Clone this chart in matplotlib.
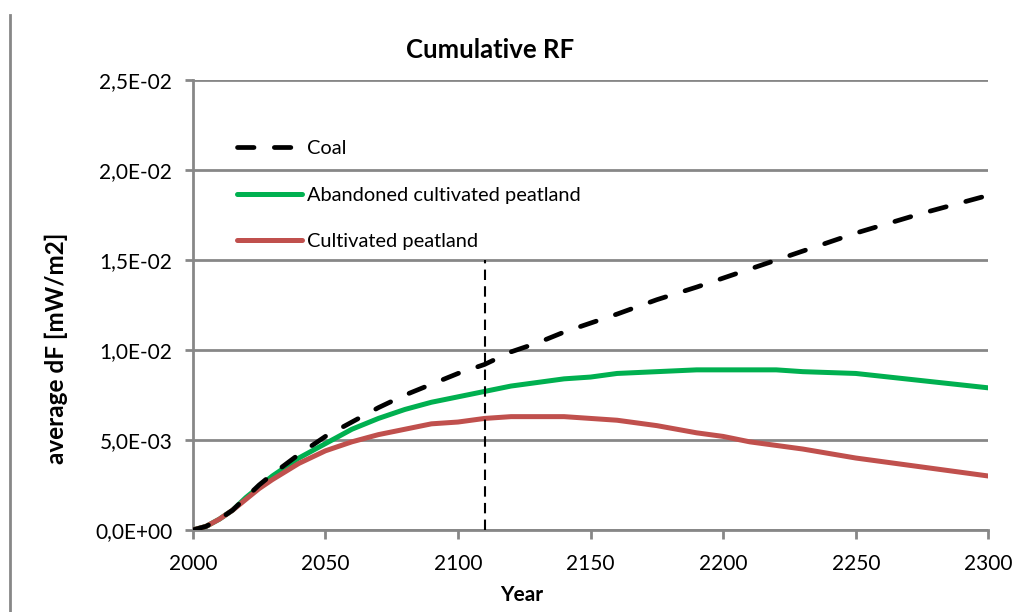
import matplotlib.pyplot as plt
from matplotlib.lines import Line2D

plt.rcParams['font.family'] = ['Lato', 'DejaVu Sans']

# values
years = [2000, 2005, 2010, 2015, 2020, 2025, 2030, 2040, 2050, 2060, 2070,
         2080, 2090, 2100, 2110, 2120, 2130, 2140, 2150, 2160, 2175, 2190,
         2200, 2210, 2220, 2230, 2250, 2275, 2300]
coal = [0.0, 0.0002, 0.0006, 0.0011, 0.0018, 0.0025, 0.0031, 0.0042, 0.0052,
        0.0060, 0.0068, 0.0075, 0.0081, 0.0087, 0.0092, 0.0099, 0.0104,
        0.0110, 0.0115, 0.0120, 0.0128, 0.0135, 0.0140, 0.0145, 0.0150,
        0.0155, 0.0165, 0.0176, 0.0186]
abandoned = [0.0, 0.0002, 0.0006, 0.0011, 0.0018, 0.0024, 0.0030, 0.0040,
             0.0048, 0.0056, 0.0062, 0.0067, 0.0071, 0.0074, 0.0077, 0.0080,
             0.0082, 0.0084, 0.0085, 0.0087, 0.0088, 0.0089, 0.0089, 0.0089,
             0.0089, 0.0088, 0.0087, 0.0083, 0.0079]
cultivated = [0.0, 0.0002, 0.0006, 0.0011, 0.0017, 0.0023, 0.0028, 0.0037,
              0.0044, 0.0049, 0.0053, 0.0056, 0.0059, 0.0060, 0.0062, 0.0063,
              0.0063, 0.0063, 0.0062, 0.0061, 0.0058, 0.0054, 0.0052, 0.0049,
              0.0047, 0.0045, 0.0040, 0.0035, 0.0030]
marker_year = 2110
marker_top = 0.015

GRID = '#878787'

fig = plt.figure(figsize=(10.2, 6.12), dpi=100)
ax = fig.add_axes([0.189, 0.134, 0.780, 0.735])

ax.plot(years, coal, color='black', lw=3.4, linestyle=(0, (3.5, 4.3)),
        dash_capstyle='round', label='Coal', zorder=4)
ax.plot(years, abandoned, color='#00B050', lw=3.6,
        solid_capstyle='round', label='Abandoned cultivated peatland', zorder=3)
ax.plot(years, cultivated, color='#C0504D', lw=3.6,
        solid_capstyle='round', label='Cultivated peatland', zorder=3)
ax.plot([marker_year, marker_year], [0, marker_top], color='black', lw=1.5,
        linestyle=(0, (5, 3)), zorder=5)

ax.set_xlim(2000, 2300)
ax.set_ylim(0, 0.025)
ax.set_xticks(range(2000, 2301, 50))
ax.set_yticks([0, 0.005, 0.01, 0.015, 0.02, 0.025])
ax.set_yticklabels(['0,0E+00', '5,0E-03', '1,0E-02', '1,5E-02',
                    '2,0E-02', '2,5E-02'])
ax.tick_params(axis='both', labelsize=15, color=GRID, width=2,
               direction='out')
ax.tick_params(axis='x', length=6.5, pad=11)
ax.tick_params(axis='y', length=5.8, pad=9)

ax.yaxis.grid(True, color=GRID, lw=2)
ax.set_axisbelow(True)
for side in ['top', 'right']:
    ax.spines[side].set_visible(False)
for side in ['left', 'bottom']:
    ax.spines[side].set_color(GRID)
    ax.spines[side].set_linewidth(2)

# axis titles placed where the reference has them
ax.text(0.413, -0.144, 'Year', transform=ax.transAxes, fontsize=15,
        fontweight='bold', ha='center', va='center')
ax.text(-0.171, 0.404, 'average dF [mW/m2]', transform=ax.transAxes,
        fontsize=17.5, fontweight='bold', ha='center', va='center',
        rotation=90)

fig.text(0.480, 0.918, 'Cumulative RF', fontsize=18.5, fontweight='bold',
         ha='center', va='center')

ax.legend(loc='upper left', bbox_to_anchor=(0.055, 0.866), frameon=False,
          fontsize=14.4, handlelength=3.25, handletextpad=0.25,
          labelspacing=1.47, borderpad=0, borderaxespad=0)

# chart-area border at the left edge
fig.add_artist(Line2D([0.0098, 0.0098], [0.0, 0.975], color=GRID, lw=2,
                      transform=fig.transFigure))

fig.savefig('out.png', dpi=100)
